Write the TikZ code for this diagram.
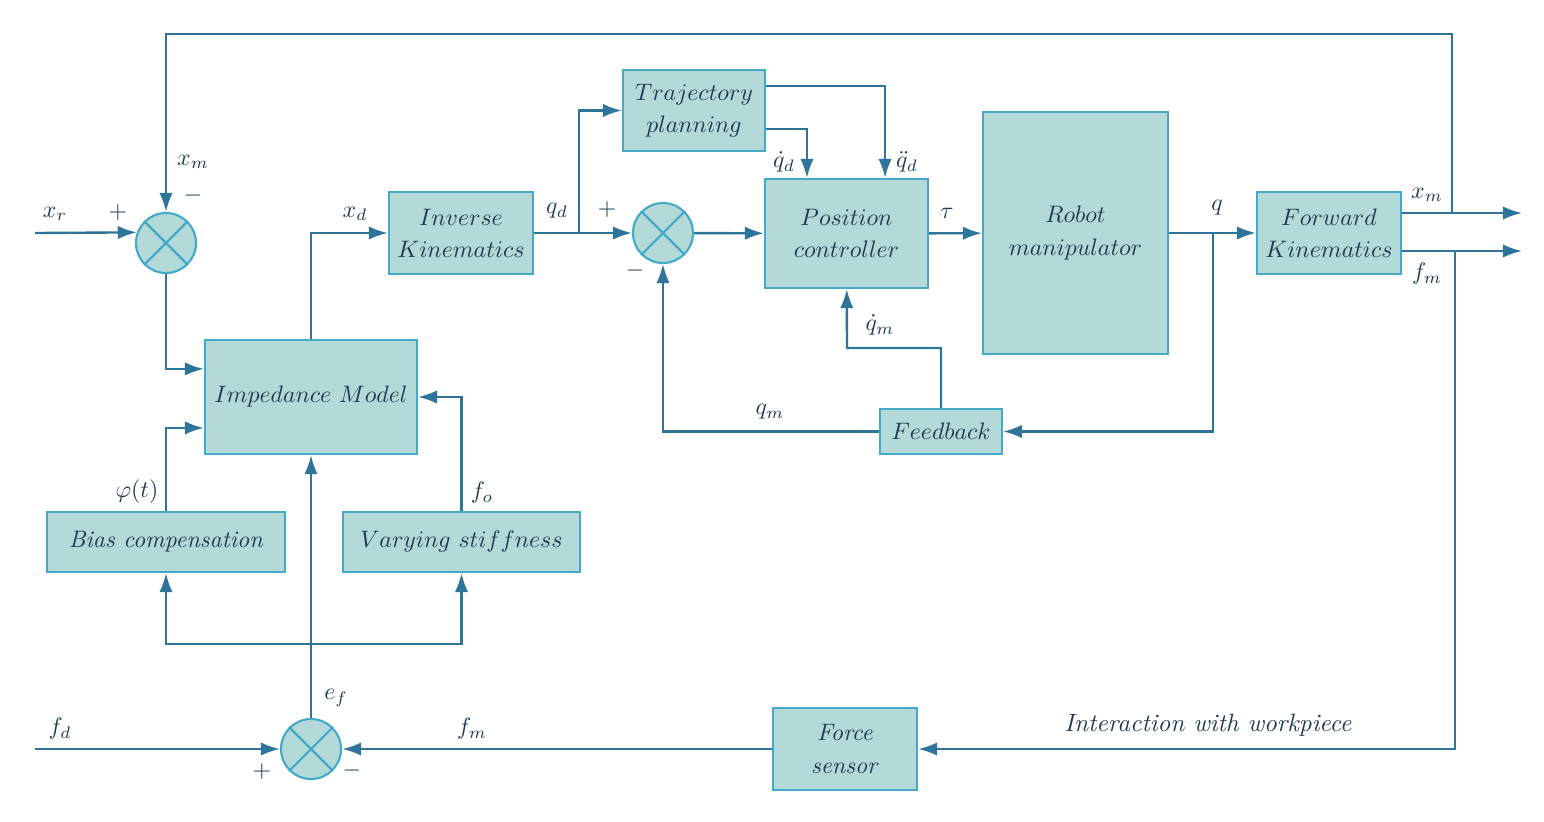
\documentclass[tikz,border=0pt]{standalone}
\usepackage{amssymb,amsmath}
\usepackage{tikz}
\usetikzlibrary{arrows.meta,positioning}

\definecolor{boxfill}{HTML}{B3D9D8}
\definecolor{boxline}{HTML}{45AAC8}
\definecolor{wire}{HTML}{2E7599}
\definecolor{ink}{HTML}{1F3B50}

\tikzset{
  block/.style={draw=boxline,fill=boxfill,line width=0.9pt,inner sep=0pt,text=ink,align=center},
  summer/.style={circle,draw=boxline,fill=boxfill,line width=0.9pt,minimum size=25.2pt,inner sep=0pt},
  lbl/.style={text=ink,inner sep=1pt},
}

\newcommand{\cross}[1]{\draw[boxline,line width=0.9pt] (#1.north west) -- (#1.south east) (#1.north east) -- (#1.south west);}

\begin{document}
\begin{tikzpicture}[x=0.42pt,y=-0.42pt,line width=1pt,>={Latex[length=8pt,width=5.6pt]},every path/.append style={wire}]
\useasboundingbox (0,0) rectangle (1544,821);

\node[block,minimum width=59.6pt,minimum height=34pt] (traj) at (694,110.5){$Trajectory$\\[1.5pt]$planning$};
\node[block,minimum width=60.5pt,minimum height=34.4pt] (ik) at (461,233){$Inverse$\\[1.5pt]$Kinematics$};
\node[block,minimum width=68.5pt,minimum height=45.8pt] (pc) at (846.5,233.5){$Position$\\[1.5pt]$controller$};
\node[block,minimum width=77.7pt,minimum height=101.6pt] (robot) at (1075.5,233){$Robot$\\[1.5pt]$manipulator$};
\node[block,minimum width=60.5pt,minimum height=34.4pt] (fk) at (1329,233){$Forward$\\[1.5pt]$Kinematics$};
\node[block,minimum width=89pt,minimum height=47.9pt] (imp) at (311,397){$Impedance\ Model$};
\node[block,minimum width=51.2pt,minimum height=18.9pt] (fb) at (941,431.5){$Feedback$};
\node[block,minimum width=100pt,minimum height=25.2pt] (bias) at (166,542){\textit{Bias compensation}};
\node[block,minimum width=99.5pt,minimum height=25.2pt] (vary) at (461.5,542){$Varying\ stiffness$};
\node[block,minimum width=60.5pt,minimum height=34.4pt] (fs) at (845,749){\textit{Force}\\[1.5pt]\textit{sensor}};

\node[summer] (s1) at (166,243){};
\node[summer] (s2) at (663,233){};
\node[summer] (s3) at (311,749){};
\cross{s1}
\cross{s2}
\cross{s3}

\coordinate (xr) at (35,233);
\coordinate (fd) at (35,749);
\coordinate (xmout) at (1522,213);
\coordinate (fmout) at (1522,251);
\coordinate (top) at (1452,34);
\coordinate (qd) at (579,233);
\coordinate (qb) at (1213,233);
\coordinate (dq) at (847,348);
\coordinate (ws) at (1455,251);
\coordinate (ef) at (311,644);

% position loop
\draw[->] (xr) -- (s1.160);
\draw[->] (top |- xmout) -- (top) -| (s1);
\draw[->] (s1) |- ([yshift=11.8pt]imp.west);
\draw[->] (bias) |- ([yshift=-13pt]imp.west);
\draw[->] (vary) |- (imp);
\draw[->] (imp) |- (ik);
\draw[->] (ik) -- (s2);
\draw[->] (qd) |- (traj);
\draw[->] (s2) -- (pc);
\draw[->] ([yshift=-7.8pt]traj.east) -| ([xshift=-16.6pt]pc.north);
\draw[->] ([yshift=10.3pt]traj.east) -| ([xshift=16.2pt]pc.north);
\draw[->] (pc) -- (robot);
\draw[->] (robot) -- (fk);
\draw[->] (qb) |- (fb);
\draw[->] (fb) -| (s2);
\draw[->] (fb) |- (dq) -- (pc);
\draw[->] (fk.east |- xmout) -- (xmout);
\draw[->] (fk.east |- fmout) -- (fmout);

% force loop
\draw[->] (ws) |- (fs);
\draw[->] (fs) -- (s3);
\draw[->] (fd) -- (s3);
\draw[->] (s3) -- (imp);
\draw[->] (ef) -| (bias);
\draw[->] (ef) -| (vary);

% labels
\node[lbl] (lxr) at (55,214){$x_r$};
\node[lbl] (lp1) at (118,213){$+$};
\node[lbl] (lxm1) at (193,162){$x_m$};
\node[lbl] (lm1) at (193,196){$-$};
\node[lbl] (lphi) at (137,492){$\varphi(t)$};
\node[lbl] (lfo) at (482,493){$f_o$};
\node[lbl] (lxd) at (355,214){$x_d$};
\node[lbl] (lqd) at (557,211){$q_d$};
\node[lbl] (lp2) at (607,210){$+$};
\node[lbl] (lm2) at (635,271){$-$};
\node[lbl] (ldqd) at (784,162){$\dot{q}_d$};
\node[lbl] (lddqd) at (907,162){$\ddot{q}_d$};
\node[lbl] (ltau) at (947,213){$\tau$};
\node[lbl] (lq) at (1217,208){$q$};
\node[lbl] (ldqm) at (880,325){$\dot{q}_m$};
\node[lbl] (lqm) at (770,412){$q_m$};
\node[lbl] (lxm2) at (1427,195){$x_m$};
\node[lbl] (lfm2) at (1427,274){$f_m$};
\node[lbl,scale=1.05] (lint) at (1208,725){\textit{Interaction with workpiece}};
\node[lbl] (lfm1) at (472,729){$f_m$};
\node[lbl] (lfd) at (60,729){$f_d$};
\node[lbl] (lef) at (336,698){$e_f$};
\node[lbl] (lp3) at (262,772){$+$};
\node[lbl] (lm3) at (352,771){$-$};

\end{tikzpicture}
\end{document}
